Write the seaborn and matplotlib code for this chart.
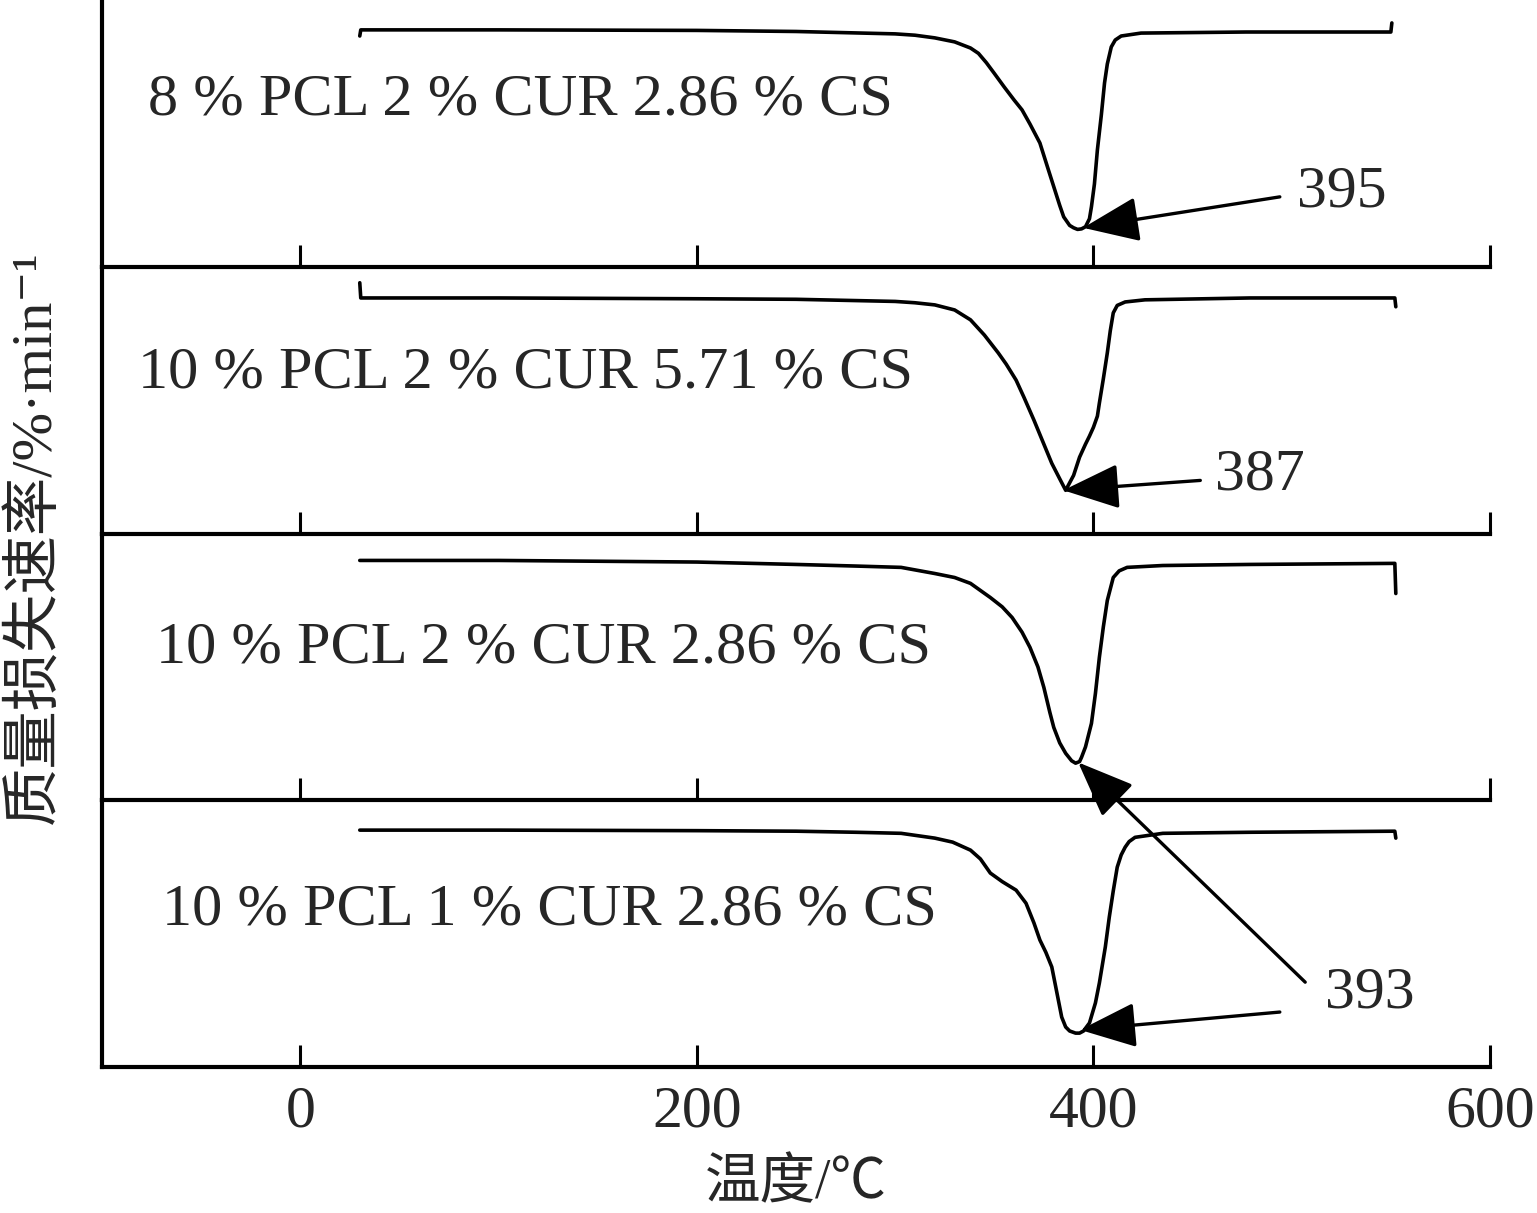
import numpy as np
import pandas as pd
import matplotlib
matplotlib.use('Agg')
import matplotlib.pyplot as plt
import seaborn as sns

sns.set_style('ticks')
plt.rcParams['font.family'] = ['Liberation Serif', 'Noto Sans CJK SC', 'DejaVu Serif']

# DTG curves, temperature (°C) vs mass loss rate (arbitrary units, 0-100 per panel)
labels = ['8 % PCL 2 % CUR 2.86 % CS',
          '10 % PCL 2 % CUR 5.71 % CS',
          '10 % PCL 2 % CUR 2.86 % CS',
          '10 % PCL 1 % CUR 2.86 % CS']

t1 = [30, 30.5, 100, 200, 250, 300, 310, 320, 330, 338, 342, 346, 350, 355, 360, 364, 368, 373,
      377, 380, 383, 385, 388, 390, 392, 394, 396, 398, 399, 400.5, 402, 404, 405.6, 407, 409,
      411, 414, 424, 477, 550, 550.5]
r1 = [86.5, 88.8, 88.8, 88.6, 88.2, 87.3, 86.8, 85.8, 84.3, 82.0, 80.0, 76.5, 72.5, 67.4, 62.5,
      58.8, 53.5, 46.4, 37.0, 30.0, 23.0, 18.7, 15.5, 14.6, 14.0, 14.2, 15.0, 18.0, 22.5, 31.0,
      43.8, 57.0, 68.9, 76.0, 82.4, 85.0, 86.5, 87.6, 88.0, 88.0, 91.4]

t2 = [30, 30.5, 100, 200, 250, 300, 310, 320, 330, 338, 345, 352, 356, 361, 365, 370, 375, 379,
      383, 386, 388, 390, 393, 396, 398, 400, 402, 403, 405, 407, 408.5, 410, 412, 416, 426,
      479, 552, 552.5]
r2 = [94.0, 88.3, 88.3, 88.0, 87.8, 87.0, 86.5, 85.7, 83.8, 80.1, 74.4, 67.7, 63.5, 57.5, 51.0,
      42.5, 33.5, 26.3, 20.5, 16.2, 19.0, 21.8, 28.6, 33.5, 36.5, 39.8, 44.0, 48.9, 58.0, 67.7,
      76.0, 82.7, 85.5, 86.8, 87.6, 88.3, 88.3, 85.0]

t3 = [30, 100, 200, 250, 280, 303, 320, 330, 338, 348, 354, 359, 364, 368, 372, 375, 378, 380,
      383, 386, 389, 391, 393, 394, 396, 399, 401, 403, 405, 407, 410, 413, 417, 435, 479, 552,
      552.5]
r3 = [89.9, 89.9, 89.3, 88.4, 87.8, 87.3, 85.0, 83.5, 81.3, 76.0, 72.5, 68.5, 63.0, 57.3, 50.0,
      42.3, 33.0, 27.3, 21.5, 17.6, 14.8, 13.9, 14.5, 16.1, 20.0, 28.8, 40.0, 53.6, 65.0, 74.9,
      83.5, 86.0, 87.3, 88.0, 88.4, 88.8, 77.5]

t4 = [30, 100, 200, 250, 280, 303, 320, 329, 338, 343, 348, 354, 361, 366, 370, 373, 376, 379,
      381, 384, 386, 388, 391, 393, 395, 398, 401, 403, 406, 408, 410, 412, 414, 416, 418, 421,
      435, 479, 552, 552.5]
r4 = [88.8, 88.8, 88.6, 88.4, 88.0, 87.6, 85.8, 84.3, 81.3, 78.0, 72.7, 69.5, 66.3, 61.4, 54.0,
      47.6, 43.0, 37.5, 30.0, 18.7, 15.0, 13.5, 12.7, 12.7, 13.5, 16.5, 24.0, 31.5, 45.0, 56.2,
      66.0, 74.9, 79.5, 82.4, 84.5, 86.1, 87.6, 88.0, 88.4, 85.8]

peaks = ['395', '387', '393']

frames = []
for i, (t, r) in enumerate([(t1, r1), (t2, r2), (t3, r3), (t4, r4)]):
    frames.append(pd.DataFrame({'temp': t, 'rate': r, 'sample': labels[i]}))
df = pd.concat(frames, ignore_index=True)

fig, axes = plt.subplots(4, 1, sharex=True, figsize=(15.37, 12.13), dpi=100,
                         gridspec_kw={'hspace': 0})
fig.subplots_adjust(left=102 / 1537, right=1490 / 1537, bottom=1 - 1067 / 1213, top=1.0)

label_pos = [(-76.7, 62.5), (-81.7, 60.0), (-73.0, 57.0), (-69.6, 58.8)]

for i, ax in enumerate(axes):
    sub = df[df['sample'] == labels[i]]
    sns.lineplot(data=sub, x='temp', y='rate', ax=ax, color='black', lw=2.6,
                 sort=False, estimator=None)
    ax.patch.set_facecolor('none')
    ax.set_xlim(-100, 600)
    ax.set_ylim(0, 100)
    ax.set_yticks([])
    ax.set_ylabel('')
    ax.set_xlabel('')
    ax.set_xticks([0, 200, 400, 600])
    for s in ['top', 'right']:
        ax.spines[s].set_visible(False)
    for s in ['left', 'bottom']:
        ax.spines[s].set_linewidth(3.0)
        ax.spines[s].set_color('black')
        ax.spines[s].set_zorder(5)
    ax.tick_params(axis='x', direction='in', length=16, width=2.2, pad=13,
                   labelsize=43, color='black')
    ax.text(label_pos[i][0], label_pos[i][1], labels[i], fontsize=43.5, va='center', ha='left')

arrow = dict(arrowstyle='-|>,head_length=0.5,head_width=0.2', mutation_scale=70,
             lw=2.4, color='black', shrinkA=0, shrinkB=0)

axes[0].annotate('', xy=(394.8, 14.6), xytext=(494, 26.2), arrowprops=arrow)
axes[0].text(502.8, 28, peaks[0], fontsize=43, va='center', ha='left')

axes[1].annotate('', xy=(384.8, 16.2), xytext=(453.9, 19.9), arrowprops=arrow)
axes[1].text(461.5, 21.8, peaks[1], fontsize=43, va='center', ha='left')

axes[3].annotate('', xy=(393.3, 13.9), xytext=(494, 20.6), arrowprops=arrow)
axes[3].annotate('', xy=(392.3, 14.2), xycoords=axes[2].transData,
                 xytext=(506.8, 31.8), textcoords=axes[3].transData,
                 arrowprops=arrow, annotation_clip=False)
axes[3].text(517, 27.7, peaks[2], fontsize=43, va='center', ha='left')

axes[3].set_xlabel('温度/℃', fontsize=40, labelpad=14)
fig.text(35 / 1537, 1 - 537 / 1213, '质量损失速率/%·min⁻¹', rotation=90,
         fontsize=42, va='center', ha='center')

fig.savefig('out.png', dpi=100)
